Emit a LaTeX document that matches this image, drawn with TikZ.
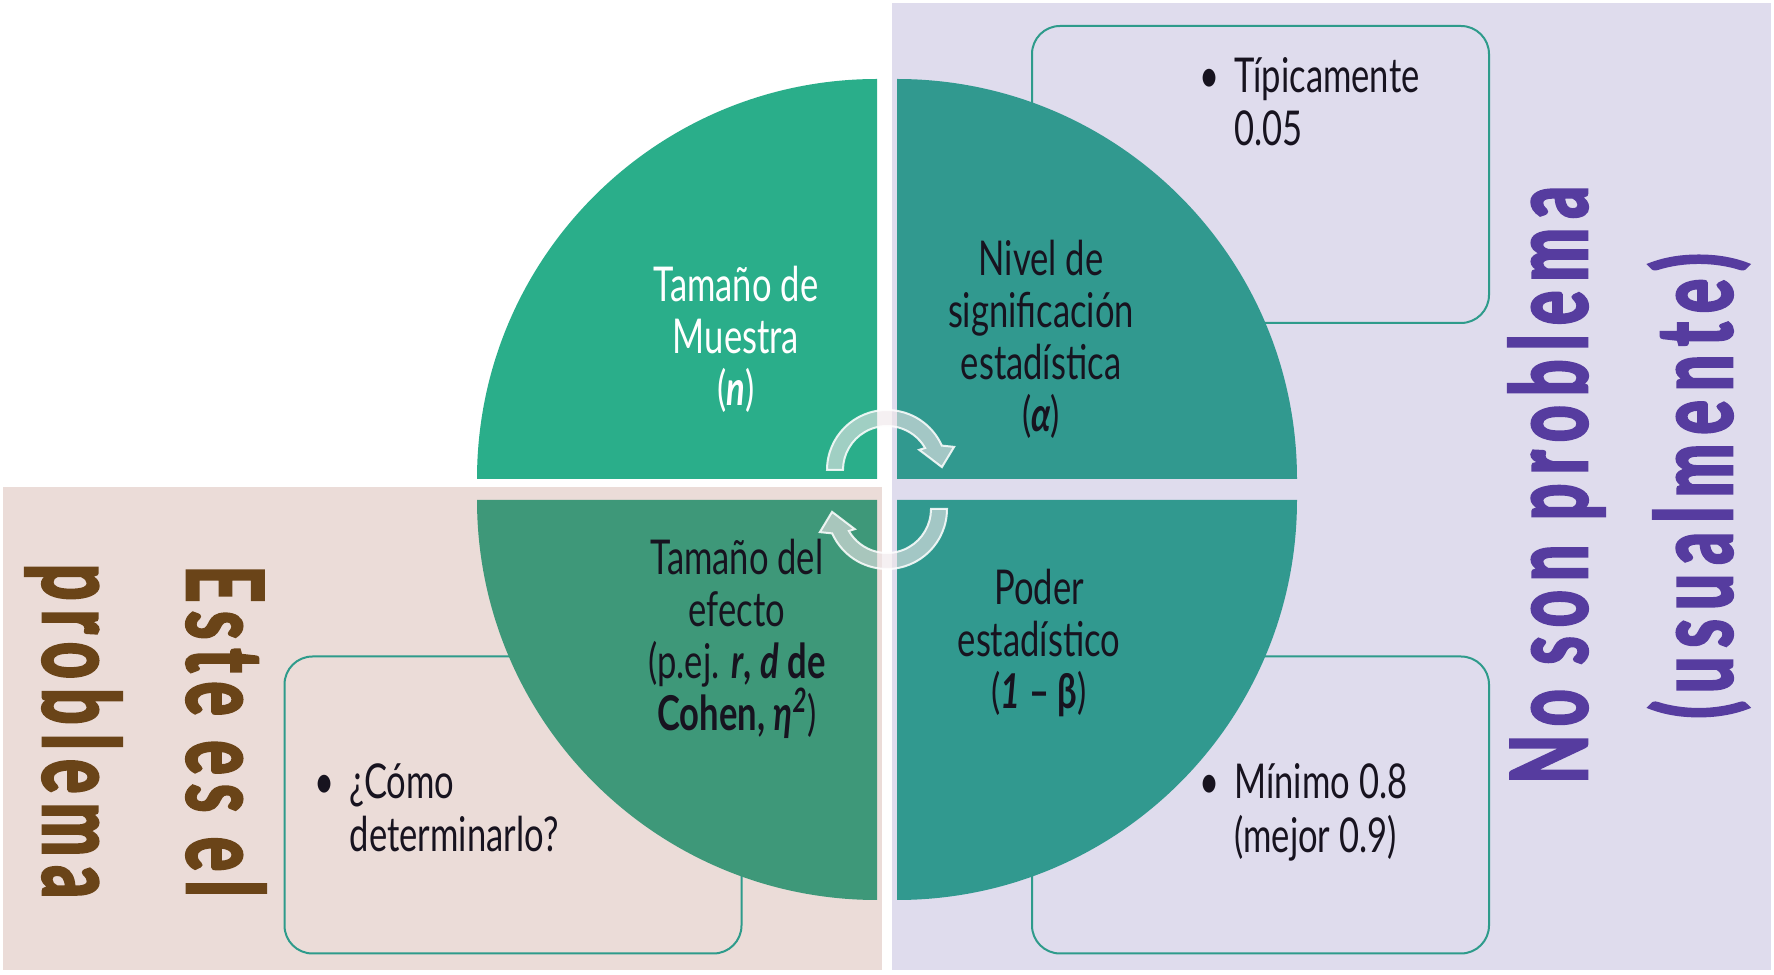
\documentclass[tikz,border=0pt]{standalone}
\usepackage{fontspec}
\setmainfont{Lato}[FakeStretch=0.72]
\newfontfamily\titlefont{Lato}[FakeStretch=0.6,LetterSpace=9,FakeBold=2.5]
\usepackage{xcolor}
\usepackage{tikz}
\usetikzlibrary{positioning,calc}
\definecolor{lavender}{HTML}{DFDCED}
\definecolor{blush}{HTML}{EBDCD8}
\definecolor{mint}{HTML}{2AAE8A}
\definecolor{teal}{HTML}{31998F}
\definecolor{sea}{HTML}{3E9879}
\definecolor{frame}{HTML}{2E9B8B}
\definecolor{ink}{HTML}{17131F}
\definecolor{brown}{HTML}{6A4418}
\definecolor{purple}{HTML}{563C9F}
\definecolor{arrowfill}{HTML}{EFE6E9}
\tikzset{
  infobox/.style={
    rounded corners=14pt,draw=frame,line width=1pt,
    minimum width=228.5pt,minimum height=148.5pt,inner sep=0pt
  },
  qlabel/.style={
    align=center,inner sep=0pt,text=ink,
    font=\fontsize{24}{26}\selectfont
  },
  boxtext/.style={
    anchor=north west,inner sep=0pt,text=ink,
    font=\fontsize{24}{26.5}\selectfont
  },
  bigtitle/.style={
    anchor=base,inner sep=0pt,
    font=\titlefont\bfseries\fontsize{53}{60}\selectfont
  },
  cyclearrow/.style={
    fill=arrowfill,fill opacity=.6,draw=white,draw opacity=.85,line width=1pt
  }
}

\begin{document}
\begin{tikzpicture}[x=0.5pt,y=0.5pt]
\useasboundingbox (0,0) rectangle (1774,975);
% background panels
\fill[lavender] (892,5) rectangle (1771,972);
\fill[blush] (3,5) rectangle (882,488);

% info boxes behind the circle
\node[infobox] (alphabox) at (1260.5,800.5) {};
\node[infobox] (powerbox) at (1260.5,170) {};
\node[infobox] (effectbox) at (513,170) {};

% quadrants
\foreach \clr/\cx/\cy/\a in {mint/877/496/180,teal/897/496/90,teal/897/475/0,sea/877/475/270}
  \fill[\clr] (\cx,\cy) -- ++(\a:400) arc[start angle=\a,delta angle=-90,radius=400] -- cycle;

% circular arrows
\foreach \rot in {0,180}
  \filldraw[cyclearrow,rotate around={\rot:(887,485.5)},shift={(887,505)}]
    (180:60) arc[start angle=180,end angle=24,radius=60] -- (19:71) -- (3:55)
    -- (32:38) -- (30:44) arc[start angle=30,end angle=180,radius=44] -- cycle;

% quadrant labels
\node[qlabel,text=white] (sample) at (736,636) {Tamaño de\\Muestra\\(\textbf{\textit{n}})};
\node[qlabel] (level) at (1041,635.5) {Nivel de\\significación\\estadística\\(\textbf{\textit{α}})};
\node[qlabel] (effect) at (737,336)
  {Tamaño del\\efecto\\(p.ej. \textbf{\textit{r}, \textit{d}} \textbf{de}\\\textbf{Cohen, \textit{η}\textsuperscript{\textit{2}}})};
\node[qlabel] (power) at (1039,332) {Poder\\estadístico\\(\textbf{\textit{1} – β})};

% box texts
\node[boxtext] (alphatext) at ([shift={(168,-30)}]alphabox.north west)
  {\begin{tabular}{@{}l@{}l@{}}\makebox[17.5pt][l]{\textbullet} & Típicamente\\ & 0.05\end{tabular}};
\node[boxtext] (powertext) at ([shift={(168,-106)}]powerbox.north west)
  {\begin{tabular}{@{}l@{}l@{}}\makebox[17.5pt][l]{\textbullet} & Mínimo 0.8\\ & (mejor 0.9)\end{tabular}};
\node[boxtext] (effecttext) at ([shift={(31,-106)}]effectbox.north west)
  {\begin{tabular}{@{}l@{}l@{}}\makebox[17.5pt][l]{\textbullet} & ¿Cómo\\ & determinarlo?\end{tabular}};

% side titles
\node[bigtitle,text=brown,rotate=-90] (este) at (187,244) {Este es el};
\node[bigtitle,text=brown,rotate=-90] (problema) at (43,244) {problema};
\node[bigtitle,text=purple,rotate=90] (noson) at (1587,490) {No son problema};
\node[bigtitle,text=purple,rotate=90] (usual) at (1732,489) {(usualmente)};
\end{tikzpicture}
\end{document}
